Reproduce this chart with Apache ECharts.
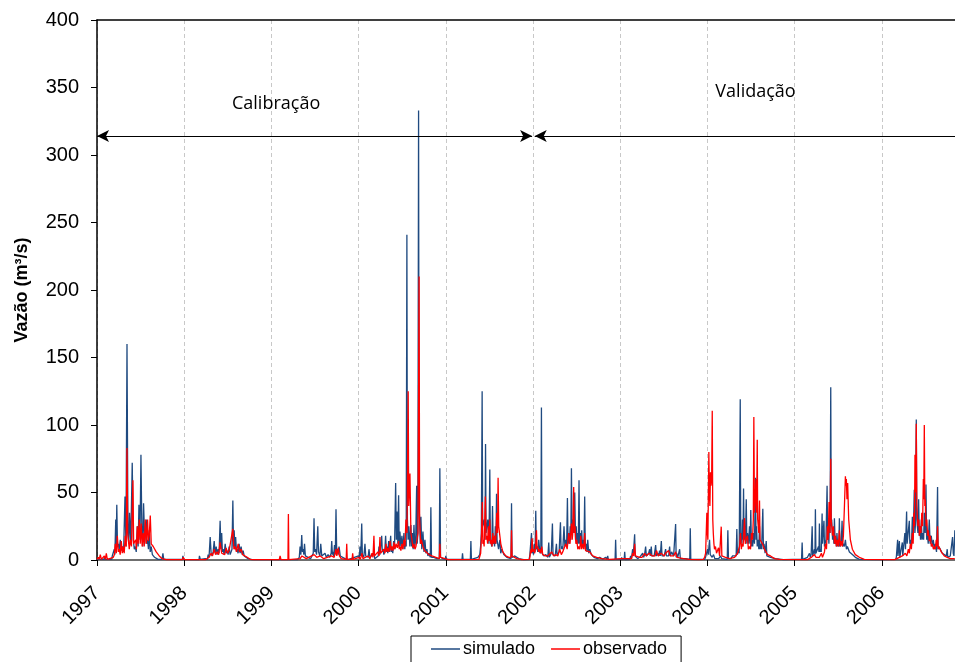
<!DOCTYPE html>
<html>
<head>
<meta charset="utf-8">
<script src="https://cdn.jsdelivr.net/npm/echarts@6/dist/echarts.min.js"></script>
<style>
html,body{margin:0;padding:0;background:#fff;}
#chart{width:955px;height:662px;}
</style>
</head>
<body>
<div id="chart"></div>
<script>
// ---------- data (decimal year, m³/s) ----------
const tickYears = [1997,1998,1999,2000,2001,2002,2003,2004,2005,2006];
const yTicks = [0,50,100,150,200,250,300,350,400];
const seriesNames = ['simulado','observado'];
const periodLabels = ['Calibração','Validação'];
const calibRange = [1997.0, 2001.99];
const validRange = [2002.02, 2006.84];
const arrowLevel = 314;
const labelPos = [[1999.054, 338], [2004.552, 347]];

const sim1997 = [[1997.000,0.5],[1997.080,0.5],[1997.084,2],[1997.090,0.5],[1997.170,0.5],[1997.175,3],[1997.190,2],[1997.198,8],[1997.205,4],[1997.215,30],[1997.220,10],[1997.227,41],[1997.235,10],[1997.244,12],[1997.255,8],[1997.267,15],[1997.278,7],[1997.290,10],[1997.305,6],[1997.321,47],[1997.332,10],[1997.344,160],[1997.355,20],[1997.364,12],[1997.373,35],[1997.387,12],[1997.404,72],[1997.416,15],[1997.428,8],[1997.439,10],[1997.450,6],[1997.462,25],[1997.472,10],[1997.481,41],[1997.493,15],[1997.504,78],[1997.515,20],[1997.525,10],[1997.534,42],[1997.548,12],[1997.565,30],[1997.572,12],[1997.580,15],[1997.590,8],[1997.599,22],[1997.610,6],[1997.622,10],[1997.635,4],[1997.645,5],[1997.660,2],[1997.679,2],[1997.700,0.5],[1997.745,0.5],[1997.756,5],[1997.765,0.5],[1997.980,0.5],[1997.985,3],[1997.995,0.5]];
const obs1997 = [[1997.000,0.5],[1997.015,2],[1997.025,0.5],[1997.038,4],[1997.050,0.5],[1997.061,1],[1997.084,3],[1997.095,0.5],[1997.107,5],[1997.118,0.5],[1997.187,2],[1997.200,4],[1997.210,12],[1997.222,5],[1997.233,18],[1997.245,6],[1997.255,8],[1997.266,4],[1997.278,14],[1997.290,5],[1997.301,10],[1997.312,5],[1997.324,18],[1997.335,10],[1997.344,83],[1997.352,20],[1997.359,20],[1997.370,8],[1997.381,15],[1997.395,10],[1997.412,59],[1997.420,12],[1997.427,12],[1997.444,15],[1997.452,8],[1997.462,25],[1997.472,12],[1997.485,30],[1997.496,12],[1997.507,27],[1997.518,10],[1997.530,20],[1997.542,10],[1997.553,30],[1997.565,12],[1997.580,30],[1997.588,14],[1997.599,18],[1997.611,33],[1997.622,12],[1997.645,10],[1997.679,6],[1997.714,3],[1997.748,1],[1997.794,0.3],[1997.980,0.3],[1997.989,2],[1998.006,0.3]];

const sim1998 = [[1998.170,0.3],[1998.175,3],[1998.185,0.5],[1998.241,1],[1998.265,0.5],[1998.275,4],[1998.285,2],[1998.298,17],[1998.309,5],[1998.320,3],[1998.332,6],[1998.344,14],[1998.355,5],[1998.367,10],[1998.378,4],[1998.389,8],[1998.400,5],[1998.412,29],[1998.421,8],[1998.430,20],[1998.438,6],[1998.447,8],[1998.458,4],[1998.470,12],[1998.482,5],[1998.493,7],[1998.504,4],[1998.515,10],[1998.527,4],[1998.538,6],[1998.548,8],[1998.558,44],[1998.566,10],[1998.573,22],[1998.582,8],[1998.590,17],[1998.600,6],[1998.607,8],[1998.618,5],[1998.630,12],[1998.642,5],[1998.653,10],[1998.665,4],[1998.676,7],[1998.688,3],[1998.699,4],[1998.733,1],[1998.779,0.3]];
const obs1998 = [[1998.250,0.3],[1998.286,2],[1998.300,1],[1998.309,5],[1998.325,3],[1998.344,8],[1998.360,4],[1998.378,6],[1998.395,4],[1998.412,13],[1998.430,5],[1998.447,6],[1998.465,4],[1998.481,9],[1998.498,5],[1998.515,7],[1998.535,6],[1998.558,23],[1998.570,8],[1998.584,10],[1998.600,6],[1998.619,12],[1998.635,6],[1998.653,8],[1998.670,4],[1998.687,5],[1998.722,2],[1998.756,0.5],[1998.800,0.3]];

const sim1999 = [[1999.300,0.3],[1999.320,2],[1999.329,10],[1999.338,4],[1999.348,18.5],[1999.356,6],[1999.363,8],[1999.372,4],[1999.380,12],[1999.390,3],[1999.397,4],[1999.420,2],[1999.450,1],[1999.470,2],[1999.480,5],[1999.489,31],[1999.497,6],[1999.506,8],[1999.518,4],[1999.532,25],[1999.540,6],[1999.546,5],[1999.556,3],[1999.566,12],[1999.578,3],[1999.592,3],[1999.615,5],[1999.630,2],[1999.650,4],[1999.670,2],[1999.685,5],[1999.692,14],[1999.700,4],[1999.707,6],[1999.715,3],[1999.724,11],[1999.733,4],[1999.741,37.5],[1999.749,6],[1999.756,8],[1999.766,4],[1999.776,10],[1999.790,3],[1999.810,3],[1999.844,1],[1999.880,0.3]];
const obs1999 = [[1999.090,0.3],[1999.100,3],[1999.110,0.3],[1999.190,0.3],[1999.195,34],[1999.200,0.3],[1999.330,1],[1999.350,3],[1999.370,2],[1999.400,1],[1999.490,4],[1999.520,2],[1999.560,3],[1999.600,1],[1999.690,3],[1999.720,2],[1999.741,8],[1999.750,3],[1999.767,9],[1999.780,3],[1999.800,1],[1999.858,0.5],[1999.864,12],[1999.870,0.5],[1999.926,0.5],[1999.932,5],[1999.940,0.5]];

const sim2000 = [[2000.000,3],[2000.008,1],[2000.016,10],[2000.025,3],[2000.036,27],[2000.043,4],[2000.050,5],[2000.060,2],[2000.073,12],[2000.082,3],[2000.096,4],[2000.110,2],[2000.119,8],[2000.130,2],[2000.142,3],[2000.176,5],[2000.185,1],[2000.199,2],[2000.225,3],[2000.234,10],[2000.245,4],[2000.265,18],[2000.272,6],[2000.280,8],[2000.290,4],[2000.300,6],[2000.310,18],[2000.318,6],[2000.325,10],[2000.335,5],[2000.345,14],[2000.355,6],[2000.368,18],[2000.375,6],[2000.383,8],[2000.392,5],[2000.402,14],[2000.412,8],[2000.425,57],[2000.433,15],[2000.440,36],[2000.450,12],[2000.459,48],[2000.466,10],[2000.474,21],[2000.485,10],[2000.497,18],[2000.508,8],[2000.520,20],[2000.530,8],[2000.537,14],[2000.546,10],[2000.554,241],[2000.560,30],[2000.568,15],[2000.577,25],[2000.588,10],[2000.600,26],[2000.608,10],[2000.617,20],[2000.626,8],[2000.635,26],[2000.645,10],[2000.655,15],[2000.666,55],[2000.672,12],[2000.680,20],[2000.688,333],[2000.694,40],[2000.700,30],[2000.708,12],[2000.715,32],[2000.725,8],[2000.738,21],[2000.750,6],[2000.761,15],[2000.772,5],[2000.784,8],[2000.795,3],[2000.806,5],[2000.822,2],[2000.829,39],[2000.836,2],[2000.864,2],[2000.898,1],[2000.925,1],[2000.932,68],[2000.940,2],[2000.967,1],[2000.995,0.5]];
const obs2000 = [[2000.005,2],[2000.020,0.5],[2000.039,5],[2000.050,1],[2000.062,1],[2000.108,3],[2000.130,1],[2000.154,5],[2000.165,2],[2000.176,18],[2000.183,3],[2000.188,3],[2000.222,6],[2000.235,3],[2000.245,17],[2000.252,5],[2000.262,5],[2000.291,8],[2000.302,5],[2000.314,12],[2000.325,6],[2000.337,9],[2000.348,6],[2000.360,14],[2000.372,7],[2000.383,10],[2000.395,7],[2000.406,13],[2000.418,8],[2000.429,12],[2000.444,9],[2000.459,14],[2000.466,8],[2000.474,10],[2000.485,7],[2000.497,12],[2000.508,8],[2000.520,15],[2000.532,10],[2000.543,30],[2000.555,20],[2000.569,125],[2000.575,40],[2000.581,40],[2000.589,64],[2000.600,20],[2000.612,15],[2000.623,9],[2000.635,12],[2000.646,8],[2000.658,10],[2000.670,9],[2000.681,20],[2000.694,210],[2000.700,30],[2000.705,30],[2000.712,12],[2000.720,15],[2000.738,10],[2000.755,7],[2000.772,6],[2000.806,4],[2000.841,3],[2000.887,2],[2000.926,1],[2000.932,12],[2000.940,2],[2000.990,1]];

const sim2001 = [[2001.000,3],[2001.010,0.5],[2001.024,0.5],[2001.186,0.5],[2001.192,5],[2001.198,0.5],[2001.282,0.5],[2001.288,14],[2001.294,0.5],[2001.368,2],[2001.390,4],[2001.399,10],[2001.408,20],[2001.417,125],[2001.423,25],[2001.428,25],[2001.442,30],[2001.450,15],[2001.456,86],[2001.462,20],[2001.467,20],[2001.482,30],[2001.495,12],[2001.505,67],[2001.511,15],[2001.517,15],[2001.528,10],[2001.536,40],[2001.544,12],[2001.551,15],[2001.560,10],[2001.568,25],[2001.575,12],[2001.582,49],[2001.588,15],[2001.593,15],[2001.605,8],[2001.620,15],[2001.630,5],[2001.643,8],[2001.666,4],[2001.700,2],[2001.748,1],[2001.754,42],[2001.760,2],[2001.765,2],[2001.792,3],[2001.838,1],[2001.895,0.3]];
const obs2001 = [[2001.001,1],[2001.030,0.3],[2001.380,0.5],[2001.391,3],[2001.400,5],[2001.408,15],[2001.419,43],[2001.425,12],[2001.431,15],[2001.440,10],[2001.454,47],[2001.462,15],[2001.471,18],[2001.480,12],[2001.488,25],[2001.496,14],[2001.505,30],[2001.514,12],[2001.522,15],[2001.531,10],[2001.540,20],[2001.550,12],[2001.562,18],[2001.572,12],[2001.585,35],[2001.593,20],[2001.600,61],[2001.607,25],[2001.614,25],[2001.631,12],[2001.654,6],[2001.688,3],[2001.723,2],[2001.748,2],[2001.754,22],[2001.760,3],[2001.769,3],[2001.814,1],[2001.872,0.3]];

const sim2002 = [[2001.955,0.5],[2001.963,3],[2001.975,2],[2001.983,20],[2001.990,5],[2001.998,8],[2002.006,4],[2002.015,12],[2002.024,6],[2002.032,36.5],[2002.038,8],[2002.044,10],[2002.055,6],[2002.066,15],[2002.080,5],[2002.090,8],[2002.097,113],[2002.103,5],[2002.109,5],[2002.124,3],[2002.147,4],[2002.170,2],[2002.181,13],[2002.188,2],[2002.198,3],[2002.210,5],[2002.223,27],[2002.230,4],[2002.238,4],[2002.255,3],[2002.269,12],[2002.276,4],[2002.284,5],[2002.300,6],[2002.315,28],[2002.322,8],[2002.330,10],[2002.342,8],[2002.356,25],[2002.366,10],[2002.376,15],[2002.386,10],[2002.395,46],[2002.402,12],[2002.410,20],[2002.418,12],[2002.427,25],[2002.434,15],[2002.441,68],[2002.448,20],[2002.456,30],[2002.468,20],[2002.479,50],[2002.488,15],[2002.496,25],[2002.505,12],[2002.513,20],[2002.520,12],[2002.528,59],[2002.535,12],[2002.542,20],[2002.550,10],[2002.559,22],[2002.567,10],[2002.576,15],[2002.585,10],[2002.593,47],[2002.600,8],[2002.611,12],[2002.620,6],[2002.628,15],[2002.640,5],[2002.651,8],[2002.668,4],[2002.685,5],[2002.700,2],[2002.719,3],[2002.740,1],[2002.765,2],[2002.800,0.5],[2002.834,2],[2002.845,0.5],[2002.857,3],[2002.865,0.3],[2002.942,0.5],[2002.948,15],[2002.954,0.5]];
const obs2002 = [[2001.960,0.5],[2001.968,4],[2001.975,8],[2001.982,5],[2001.990,16],[2001.998,6],[2002.009,8],[2002.020,5],[2002.030,10],[2002.040,22],[2002.047,8],[2002.055,10],[2002.066,6],[2002.078,8],[2002.090,5],[2002.101,10],[2002.112,4],[2002.124,5],[2002.145,3],[2002.170,3],[2002.190,2],[2002.215,6],[2002.238,3],[2002.261,4],[2002.285,3],[2002.307,8],[2002.325,4],[2002.341,6],[2002.358,5],[2002.376,12],[2002.392,8],[2002.410,20],[2002.425,12],[2002.441,27],[2002.450,15],[2002.456,20],[2002.467,54],[2002.474,20],[2002.482,25],[2002.492,12],[2002.502,15],[2002.514,8],[2002.525,10],[2002.537,8],[2002.548,18],[2002.558,8],[2002.570,12],[2002.582,8],[2002.593,20],[2002.603,7],[2002.616,8],[2002.651,6],[2002.685,3],[2002.731,2],[2002.788,1],[2002.880,0.5]];

const sim2003 = [[2003.012,0.5],[2003.017,2],[2003.022,0.5],[2003.046,0.5],[2003.052,6],[2003.058,0.3],[2003.110,0.5],[2003.120,3],[2003.130,1],[2003.143,8],[2003.150,3],[2003.166,19],[2003.172,3],[2003.178,4],[2003.200,1],[2003.223,2],[2003.240,1],[2003.258,5],[2003.270,2],[2003.280,4],[2003.292,10],[2003.300,3],[2003.315,3],[2003.327,5],[2003.338,8],[2003.345,3],[2003.357,10],[2003.364,3],[2003.372,4],[2003.390,3],[2003.407,11],[2003.415,3],[2003.430,5],[2003.442,3],[2003.452,7],[2003.460,3],[2003.472,14],[2003.480,3],[2003.487,4],[2003.505,3],[2003.521,8],[2003.530,3],[2003.544,4],[2003.556,3],[2003.567,10],[2003.575,3],[2003.590,6],[2003.613,3],[2003.630,2],[2003.636,26.7],[2003.642,2],[2003.647,5],[2003.660,2],[2003.682,8],[2003.690,1],[2003.705,2],[2003.750,1],[2003.798,0.5],[2003.804,23.5],[2003.810,0.5],[2003.853,0.5]];
const obs2003 = [[2003.017,1],[2003.030,0.3],[2003.130,1],[2003.143,5],[2003.155,3],[2003.166,12],[2003.175,3],[2003.183,3],[2003.223,2],[2003.250,2],[2003.281,5],[2003.298,3],[2003.315,3],[2003.332,5],[2003.349,6],[2003.366,3],[2003.384,4],[2003.400,3],[2003.418,7],[2003.435,3],[2003.452,4],[2003.470,5],[2003.487,6],[2003.505,3],[2003.521,5],[2003.538,4],[2003.556,7],[2003.573,3],[2003.590,4],[2003.613,3],[2003.636,6],[2003.650,2],[2003.670,3],[2003.727,1],[2003.796,0.5],[2003.900,0.3]];

const sim2004 = [[2003.970,0.5],[2003.979,2],[2003.990,1],[2004.002,8],[2004.010,4],[2004.025,15],[2004.033,4],[2004.042,5],[2004.055,2],[2004.071,4],[2004.085,1],[2004.105,2],[2004.130,1],[2004.151,3],[2004.165,1],[2004.186,1],[2004.228,0.5],[2004.235,22],[2004.242,1],[2004.249,2],[2004.270,1],[2004.289,3],[2004.310,2],[2004.330,3],[2004.338,23],[2004.345,4],[2004.352,8],[2004.365,5],[2004.377,119],[2004.383,15],[2004.388,20],[2004.396,12],[2004.403,30],[2004.409,15],[2004.415,53],[2004.421,15],[2004.426,25],[2004.436,14],[2004.446,45],[2004.453,12],[2004.460,20],[2004.472,12],[2004.483,25],[2004.490,12],[2004.498,37],[2004.505,10],[2004.512,15],[2004.520,10],[2004.529,20],[2004.540,12],[2004.552,61],[2004.558,15],[2004.564,25],[2004.572,10],[2004.581,15],[2004.590,8],[2004.598,25],[2004.604,8],[2004.609,12],[2004.622,8],[2004.636,38],[2004.643,8],[2004.650,12],[2004.662,5],[2004.675,14],[2004.682,3],[2004.690,3],[2004.724,2],[2004.781,1],[2004.873,0.3]];
const obs2004 = [[2003.955,0.5],[2003.968,2],[2003.980,5],[2003.994,35],[2004.000,20],[2004.006,15],[2004.017,80],[2004.023,50],[2004.029,40],[2004.036,65],[2004.042,55],[2004.049,60],[2004.056,110.6],[2004.062,30],[2004.068,20],[2004.075,12],[2004.082,8],[2004.093,10],[2004.105,5],[2004.128,9],[2004.140,3],[2004.145,3],[2004.159,24.7],[2004.166,3],[2004.171,3],[2004.208,2],[2004.254,1],[2004.312,2],[2004.346,5],[2004.358,4],[2004.369,10],[2004.380,20],[2004.390,8],[2004.397,12],[2004.410,10],[2004.426,31],[2004.435,12],[2004.443,15],[2004.460,18],[2004.470,8],[2004.483,10],[2004.495,8],[2004.506,20],[2004.518,15],[2004.527,30],[2004.533,106],[2004.540,35],[2004.546,40],[2004.558,60],[2004.565,35],[2004.572,89],[2004.577,30],[2004.581,30],[2004.590,20],[2004.598,44],[2004.604,15],[2004.609,15],[2004.632,12],[2004.655,8],[2004.690,4],[2004.724,3],[2004.770,1],[2004.827,0.5]];

const sim2005 = [[2004.980,0.5],[2004.987,1],[2004.995,0.5],[2005.080,0.5],[2005.087,13],[2005.093,0.5],[2005.148,2],[2005.160,1],[2005.171,5],[2005.180,2],[2005.190,4],[2005.202,25],[2005.208,3],[2005.213,3],[2005.228,8],[2005.234,4],[2005.239,37.5],[2005.245,5],[2005.251,5],[2005.262,4],[2005.274,10],[2005.280,6],[2005.285,27],[2005.291,6],[2005.297,8],[2005.306,6],[2005.316,34.5],[2005.320,12],[2005.325,12],[2005.337,29],[2005.343,10],[2005.348,10],[2005.360,15],[2005.373,55],[2005.380,15],[2005.388,20],[2005.394,12],[2005.400,30],[2005.407,20],[2005.415,128],[2005.421,25],[2005.426,30],[2005.436,15],[2005.446,20],[2005.451,12],[2005.457,31],[2005.466,12],[2005.474,15],[2005.480,10],[2005.486,20],[2005.495,10],[2005.503,15],[2005.508,10],[2005.514,31],[2005.520,10],[2005.526,10],[2005.535,12],[2005.545,29],[2005.552,10],[2005.560,12],[2005.572,10],[2005.583,15],[2005.595,8],[2005.606,10],[2005.629,6],[2005.663,4],[2005.697,2],[2005.743,0.5]];
const obs2005 = [[2005.150,0.3],[2005.194,2],[2005.210,1],[2005.228,4],[2005.245,2],[2005.262,3],[2005.285,2],[2005.308,5],[2005.320,2],[2005.331,3],[2005.343,6],[2005.354,12],[2005.366,8],[2005.377,25],[2005.385,15],[2005.396,43],[2005.406,20],[2005.415,75],[2005.420,30],[2005.426,30],[2005.436,18],[2005.446,25],[2005.458,12],[2005.469,18],[2005.480,10],[2005.491,15],[2005.503,10],[2005.514,22],[2005.526,10],[2005.537,14],[2005.548,10],[2005.560,18],[2005.572,40],[2005.583,62],[2005.589,55],[2005.594,60],[2005.601,45],[2005.609,57],[2005.621,30],[2005.640,15],[2005.663,8],[2005.697,4],[2005.743,2],[2005.800,0.5]];

const sim2006 = [[2005.990,0.3],[2006.007,0.5],[2006.160,0.5],[2006.167,2],[2006.182,15],[2006.186,3],[2006.190,3],[2006.202,14],[2006.207,2],[2006.213,2],[2006.236,13],[2006.241,3],[2006.247,3],[2006.265,20],[2006.272,8],[2006.285,36],[2006.291,12],[2006.297,12],[2006.316,29],[2006.322,12],[2006.328,15],[2006.340,10],[2006.351,32],[2006.357,15],[2006.362,20],[2006.373,52],[2006.380,20],[2006.385,25],[2006.396,104],[2006.402,30],[2006.408,30],[2006.415,20],[2006.423,45],[2006.430,18],[2006.436,25],[2006.445,15],[2006.454,30],[2006.462,15],[2006.471,20],[2006.480,15],[2006.488,35],[2006.498,20],[2006.507,56],[2006.515,15],[2006.522,20],[2006.533,12],[2006.545,30],[2006.555,12],[2006.568,18],[2006.580,10],[2006.591,15],[2006.603,8],[2006.614,12],[2006.628,6],[2006.640,54],[2006.646,8],[2006.652,10],[2006.671,8],[2006.694,5],[2006.717,4],[2006.740,3],[2006.751,8],[2006.757,2],[2006.763,2],[2006.786,3],[2006.805,2],[2006.812,17],[2006.820,5],[2006.828,3],[2006.838,22]];
const obs2006 = [[2006.150,0.3],[2006.202,2],[2006.236,3],[2006.250,2],[2006.270,5],[2006.288,3],[2006.305,8],[2006.316,5],[2006.328,12],[2006.340,8],[2006.351,20],[2006.360,12],[2006.368,35],[2006.375,25],[2006.381,78],[2006.390,50],[2006.396,101],[2006.402,40],[2006.408,40],[2006.415,25],[2006.425,30],[2006.432,18],[2006.442,25],[2006.450,20],[2006.459,35],[2006.468,25],[2006.477,60],[2006.482,45],[2006.488,100],[2006.494,40],[2006.499,45],[2006.508,25],[2006.517,30],[2006.525,18],[2006.534,22],[2006.545,14],[2006.557,18],[2006.568,10],[2006.580,12],[2006.592,8],[2006.603,10],[2006.614,8],[2006.625,15],[2006.632,10],[2006.640,25],[2006.647,8],[2006.654,10],[2006.683,6],[2006.717,3],[2006.751,2],[2006.786,1],[2006.838,1]];

// ---------- assemble ----------
const simulado = [].concat(sim1997, sim1998, sim1999, sim2000, sim2001, sim2002, sim2003, sim2004, sim2005, sim2006);
const observado = [].concat(obs1997, obs1998, obs1999, obs2000, obs2001, obs2002, obs2003, obs2004, obs2005, obs2006);

const FONT = '"Liberation Sans", Arial, sans-serif';
const chart = echarts.init(document.getElementById('chart'), null, {renderer: 'canvas'});

const option = {
  animation: false,
  backgroundColor: '#ffffff',
  grid: {left: 97, right: 0, top: 20, bottom: 102, containLabel: false},
  legend: {
    data: [
      {name: seriesNames[0], icon: 'rect'},
      {name: seriesNames[1], icon: 'rect'}
    ],
    left: 411, top: 636,
    itemWidth: 29, itemHeight: 1.5, itemGap: 16,
    borderColor: '#000', borderWidth: 1,
    padding: [4, 14, 20, 20],
    textStyle: {fontFamily: FONT, fontSize: 18, color: '#000', padding: [0,0,0,-2]}
  },
  xAxis: [{
    type: 'value', min: tickYears[0], max: validRange[1], interval: 1,
    axisLine: {show: true, lineStyle: {color: '#404040', width: 1.5}},
    axisTick: {show: true, length: 6, lineStyle: {color: '#000'}, customValues: tickYears},
    axisLabel: {
      customValues: tickYears, rotate: 45, margin: 30,
      fontFamily: FONT, fontSize: 20, color: '#000',
      formatter: v => String(Math.round(v))
    },
    splitLine: {show: true, lineStyle: {color: '#c8c8c8', type: [4, 3], width: 1}}
  }, {
    type: 'value', position: 'top', min: tickYears[0], max: validRange[1],
    axisLine: {show: true, onZero: false, lineStyle: {color: '#000', width: 1.5}},
    axisTick: {show: false}, axisLabel: {show: false}, splitLine: {show: false}
  }],
  yAxis: {
    type: 'value', min: yTicks[0], max: yTicks[yTicks.length - 1], interval: 50,
    name: 'Vazão (m³/s)', nameLocation: 'middle', nameGap: 66, nameRotate: 90,
    nameTextStyle: {fontFamily: FONT, fontSize: 18, fontWeight: 'bold', color: '#000'},
    axisLine: {show: true, lineStyle: {color: '#000', width: 1.5}},
    axisTick: {show: true, length: 6, lineStyle: {color: '#000'}},
    axisLabel: {fontFamily: FONT, fontSize: 20, color: '#000', margin: 18},
    splitLine: {show: false}
  },
  series: [
    {
      name: seriesNames[0], type: 'line', data: simulado,
      showSymbol: false, symbol: 'none',
      color: '#1f4a80',
      lineStyle: {color: '#1f4a80', width: 1.3},
      z: 2
    },
    {
      name: seriesNames[1], type: 'line', data: observado,
      showSymbol: false, symbol: 'none',
      color: '#ff0000',
      lineStyle: {color: '#ff0000', width: 1.3},
      z: 3
    },
    {
      name: 'anotacoes', type: 'line', data: [], silent: true,
      markLine: {
        silent: true, animation: false,
        symbolSize: [9, 12],
        label: {show: false},
        lineStyle: {color: '#000', width: 1.2, type: 'solid'},
        data: [
          [{coord: [calibRange[0], arrowLevel], symbol: 'arrow'}, {coord: [calibRange[1], arrowLevel], symbol: 'arrow'}],
          [{coord: [validRange[0], arrowLevel], symbol: 'arrow'}, {coord: [validRange[1], arrowLevel], symbol: 'none'}]
        ]
      },
      markPoint: {
        silent: true, symbol: 'circle', symbolSize: 0,
        label: {show: true, position: 'inside', fontFamily: '"Open Sans", "Liberation Sans", sans-serif', fontSize: 18, color: '#000', formatter: p => p.name},
        data: [
          {name: periodLabels[0], coord: labelPos[0]},
          {name: periodLabels[1], coord: labelPos[1]}
        ]
      },
      z: 4
    }
  ]
};
chart.setOption(option);
</script>
</body>
</html>
